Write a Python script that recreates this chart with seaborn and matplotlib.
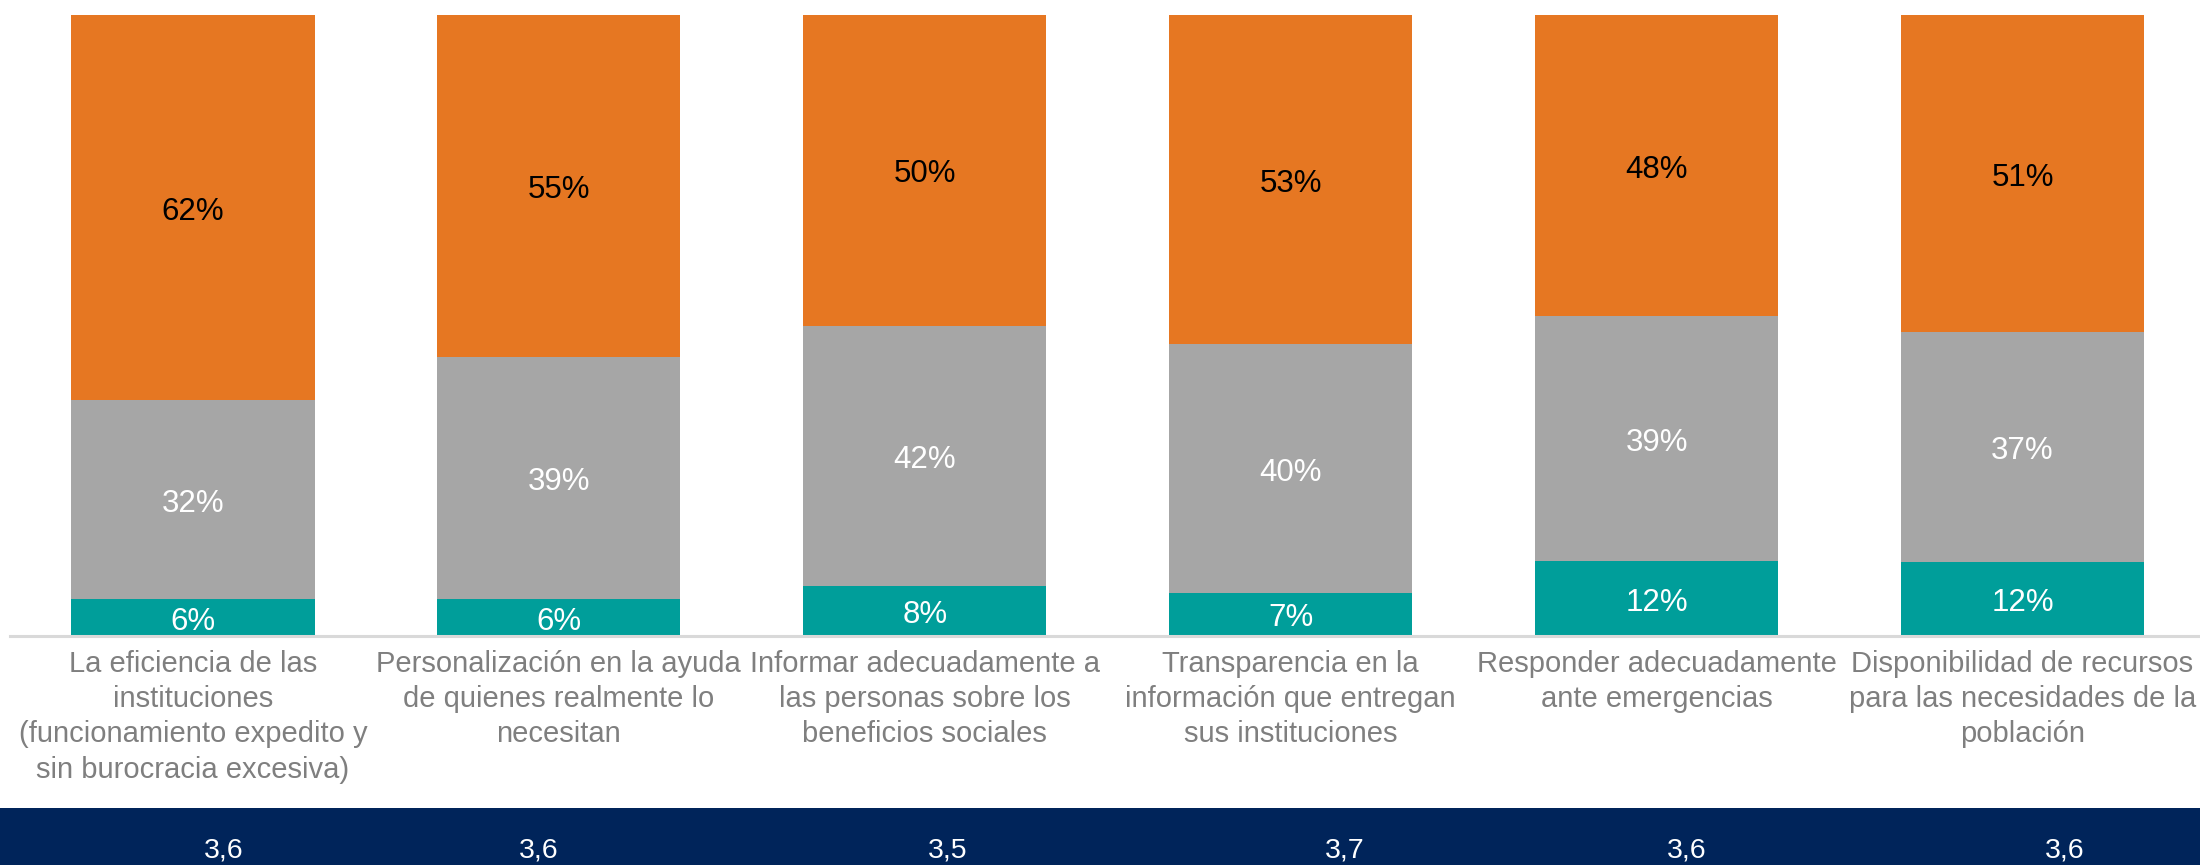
import numpy as np
import pandas as pd
import seaborn as sns
import matplotlib.pyplot as plt
import matplotlib.transforms as mtransforms
from matplotlib.patches import Rectangle

# data
categories = [
    "La eficiencia de las\ninstituciones\n(funcionamiento expedito y\nsin burocracia excesiva)",
    "Personalización en la ayuda\nde quienes realmente lo\nnecesitan",
    "Informar adecuadamente a\nlas personas sobre los\nbeneficios sociales",
    "Transparencia en la\ninformación que entregan\nsus instituciones",
    "Responder adecuadamente\nante emergencias",
    "Disponibilidad de recursos\npara las necesidades de la\npoblación",
]
low = [6, 6, 8, 7, 12, 12]       # teal (bottom)
mid = [32, 39, 42, 40, 39, 37]   # gray (middle)
high = [62, 55, 50, 53, 48, 51]  # orange (top)
scores = [3.6, 3.6, 3.5, 3.7, 3.6, 3.6]

# small horizontal shifts of the score labels in the navy band (layout only)
score_shift = [0.085, -0.055, 0.064, 0.147, 0.083, 0.114]

c_low, c_mid, c_high = "#009E9A", "#A6A6A6", "#E67722"
navy = "#00245A"

df = pd.DataFrame({"cat": categories, "low": low, "mid": mid, "high": high})
tot = df[["low", "mid", "high"]].sum(axis=1)
# 100% stacked, like the original
df["low_s"] = df["low"] / tot
df["mid_s"] = df["mid"] / tot
df["high_s"] = df["high"] / tot

sns.set_style("white")
plt.rcParams["font.family"] = ["Liberation Sans", "DejaVu Sans"]

fig = plt.figure(figsize=(22, 8.65), dpi=100)
ax = fig.add_axes([0.0045, 0.2647, 0.998, 0.7179])

bw = 0.665
sns.barplot(data=df, x="cat", y="low_s", color=c_low, saturation=1, width=bw,
            errorbar=None, linewidth=0, ax=ax)
sns.barplot(data=df, x="cat", y="mid_s", color=c_mid, saturation=1, width=bw,
            errorbar=None, linewidth=0, bottom=df["low_s"].values, ax=ax)
sns.barplot(data=df, x="cat", y="high_s", color=c_high, saturation=1, width=bw,
            errorbar=None, linewidth=0,
            bottom=(df["low_s"] + df["mid_s"]).values, ax=ax)

cols = ["low", "mid", "high"]
txt_colors = ["white", "white", "black"]
for cont, col, tc in zip(ax.containers, cols, txt_colors):
    ax.bar_label(cont, labels=[f"{v}%" for v in df[col]], label_type="center",
                 color=tc, fontsize=22.5, padding=-3)

ax.set_ylim(0, 1)
ax.set_xlim(-0.5, len(categories) - 0.5)
ax.set_xlabel("")
ax.set_ylabel("")
ax.set_yticks([])
ax.set_xticks(range(len(categories)))
ax.set_xticklabels(categories, linespacing=1.33)
ax.tick_params(axis="x", length=0, pad=10, labelsize=21, labelcolor="#7F7F7F")
for s in ["top", "left", "right"]:
    ax.spines[s].set_visible(False)
ax.spines["bottom"].set_color("#D9D9D9")
ax.spines["bottom"].set_linewidth(2.2)

# navy band with the average scores
fig.add_artist(Rectangle((0, 0), 1, 0.0659, transform=fig.transFigure,
                         facecolor=navy, edgecolor="none", zorder=0))
trans = mtransforms.blended_transform_factory(ax.transData, fig.transFigure)
for i, (sc, dx) in enumerate(zip(scores, score_shift)):
    ax.text(i + dx, 0.0162, f"{sc:.1f}".replace(".", ","), transform=trans,
            ha="center", va="center", color="white", fontsize=20.5,
            clip_on=False)

fig.savefig("out.png", dpi=100)
